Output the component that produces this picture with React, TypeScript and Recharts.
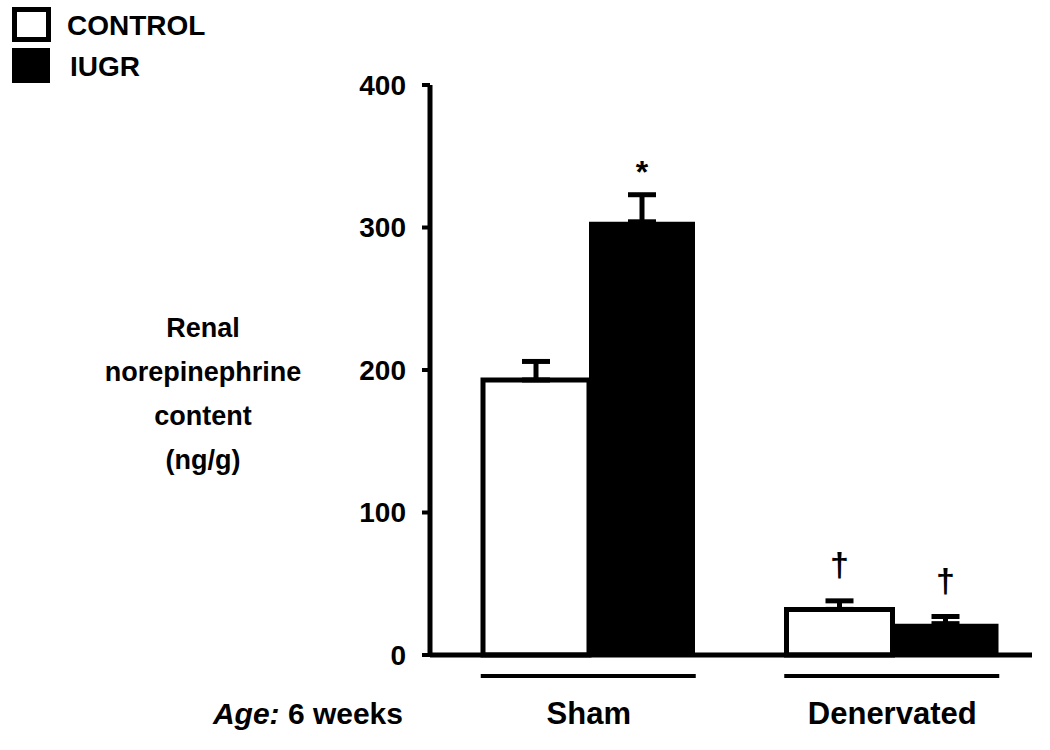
import React from "react";
import {
  BarChart,
  Bar,
  XAxis,
  YAxis,
  ErrorBar,
  Legend,
} from "recharts";

const FONT = "'Liberation Sans', Arial, Helvetica, sans-serif";

// values (ng/g)
const categories = ["Sham", "Denervated"];
const controlValues = [193, 32];
const iugrValues = [304, 22];
const controlSE = [13, 6];
const iugrSE = [19, 5];
const controlMarks = ["", "†"];
const iugrMarks = ["*", "†"];
const yTicks = [0, 100, 200, 300, 400];
const yLabelLines = ["Renal", "norepinephrine", "content", "(ng/g)"];

const data = categories.map((name, i) => ({
  name,
  control: controlValues[i],
  iugr: iugrValues[i],
  controlErr: [0, controlSE[i]],
  iugrErr: [0, iugrSE[i]],
}));

// star / dagger drawn above the error bar cap
const markLabel = (marks: string[], errs: number[]) => (props: any) => {
  const { x, y, width, height, value, index } = props;
  const m = marks[index];
  if (!m) return null;
  const errPx = value ? (errs[index] * height) / value : 0;
  const capY = y - errPx;
  const isStar = m === "*";
  return (
    <text
      x={x + width / 2}
      y={isStar ? capY - 12 : capY - 25}
      textAnchor="middle"
      fontSize={isStar ? 32 : 34}
      fontWeight="bold"
      fontFamily={FONT}
      fill="#000"
    >
      {m}
    </text>
  );
};

const GroupTick = (props: any) => {
  const { x, y, payload } = props;
  return (
    <g>
      <line x1={x - 108} x2={x + 107} y1={y + 21} y2={y + 21} stroke="#000" strokeWidth={4} />
      <text
        x={x}
        y={y + 69}
        textAnchor="middle"
        fontSize={31}
        fontWeight="bold"
        fontFamily={FONT}
        fill="#000"
      >
        {payload.value}
      </text>
    </g>
  );
};

const AgeLabel = (props: any) => {
  const { viewBox } = props;
  return (
    <text
      x={viewBox.x - 27}
      y={viewBox.y + 69}
      textAnchor="end"
      fontSize={30}
      fontWeight="bold"
      fontFamily={FONT}
      fill="#000"
    >
      <tspan fontStyle="italic">Age:</tspan> 6 weeks
    </text>
  );
};

const YTitle = (props: any) => {
  const { viewBox } = props;
  const cx = viewBox.x - 147;
  return (
    <text textAnchor="middle" fontSize={27} fontWeight="bold" fontFamily={FONT} fill="#000">
      {yLabelLines.map((line, i) => (
        <tspan key={line} x={cx} y={337 + i * 44}>
          {line}
        </tspan>
      ))}
    </text>
  );
};

const LegendBox = () => (
  <svg width={260} height={90}>
    <rect x={14.5} y={9.5} width={34} height={30} fill="#fff" stroke="#000" strokeWidth={5} />
    <rect x={12} y={48} width={38} height={35} fill="#000" />
    <text x={67} y={35} fontSize={28} fontWeight="bold" fontFamily={FONT} fill="#000">
      CONTROL
    </text>
    <text x={70} y={76} fontSize={28} fontWeight="bold" fontFamily={FONT} fill="#000">
      IUGR
    </text>
  </svg>
);

export default function App() {
  return (
    <div style={{ position: "fixed", top: 0, left: 0, width: 1050, height: 750, background: "#fff" }}>
      <BarChart
        width={1050}
        height={750}
        data={data}
        margin={{ top: 85, right: 18, left: 350, bottom: 15 }}
        barGap={0}
        barSize={106}
      >
        <XAxis
          dataKey="name"
          axisLine={{ stroke: "#000", strokeWidth: 5 }}
          tickLine={false}
          tickSize={0}
          tickMargin={0}
          height={80}
          padding={{ left: 7, right: -12 }}
          tick={<GroupTick />}
          label={<AgeLabel />}
        />
        <YAxis
          domain={[0, 400]}
          ticks={yTicks}
          width={80}
          axisLine={{ stroke: "#000", strokeWidth: 5 }}
          tickLine={{ stroke: "#000", strokeWidth: 4 }}
          tickSize={8}
          tickMargin={16}
          tick={{ fill: "#000", fontSize: 28, fontWeight: "bold", fontFamily: FONT }}
          label={<YTitle />}
        />
        <Legend
          layout="horizontal"
          verticalAlign="middle"
          align="center"
          wrapperStyle={{ top: 0, left: 0, width: 260 }}
          content={<LegendBox />}
        />
        <Bar
          dataKey="control"
          name="CONTROL"
          fill="#fff"
          stroke="#000"
          strokeWidth={5}
          isAnimationActive={false}
          label={markLabel(controlMarks, controlSE)}
        >
          <ErrorBar dataKey="controlErr" width={14} stroke="#000" strokeWidth={5} isAnimationActive={false} />
        </Bar>
        <Bar
          dataKey="iugr"
          name="IUGR"
          fill="#000"
          isAnimationActive={false}
          label={markLabel(iugrMarks, iugrSE)}
        >
          <ErrorBar dataKey="iugrErr" width={14} stroke="#000" strokeWidth={5} isAnimationActive={false} />
        </Bar>
      </BarChart>
    </div>
  );
}
